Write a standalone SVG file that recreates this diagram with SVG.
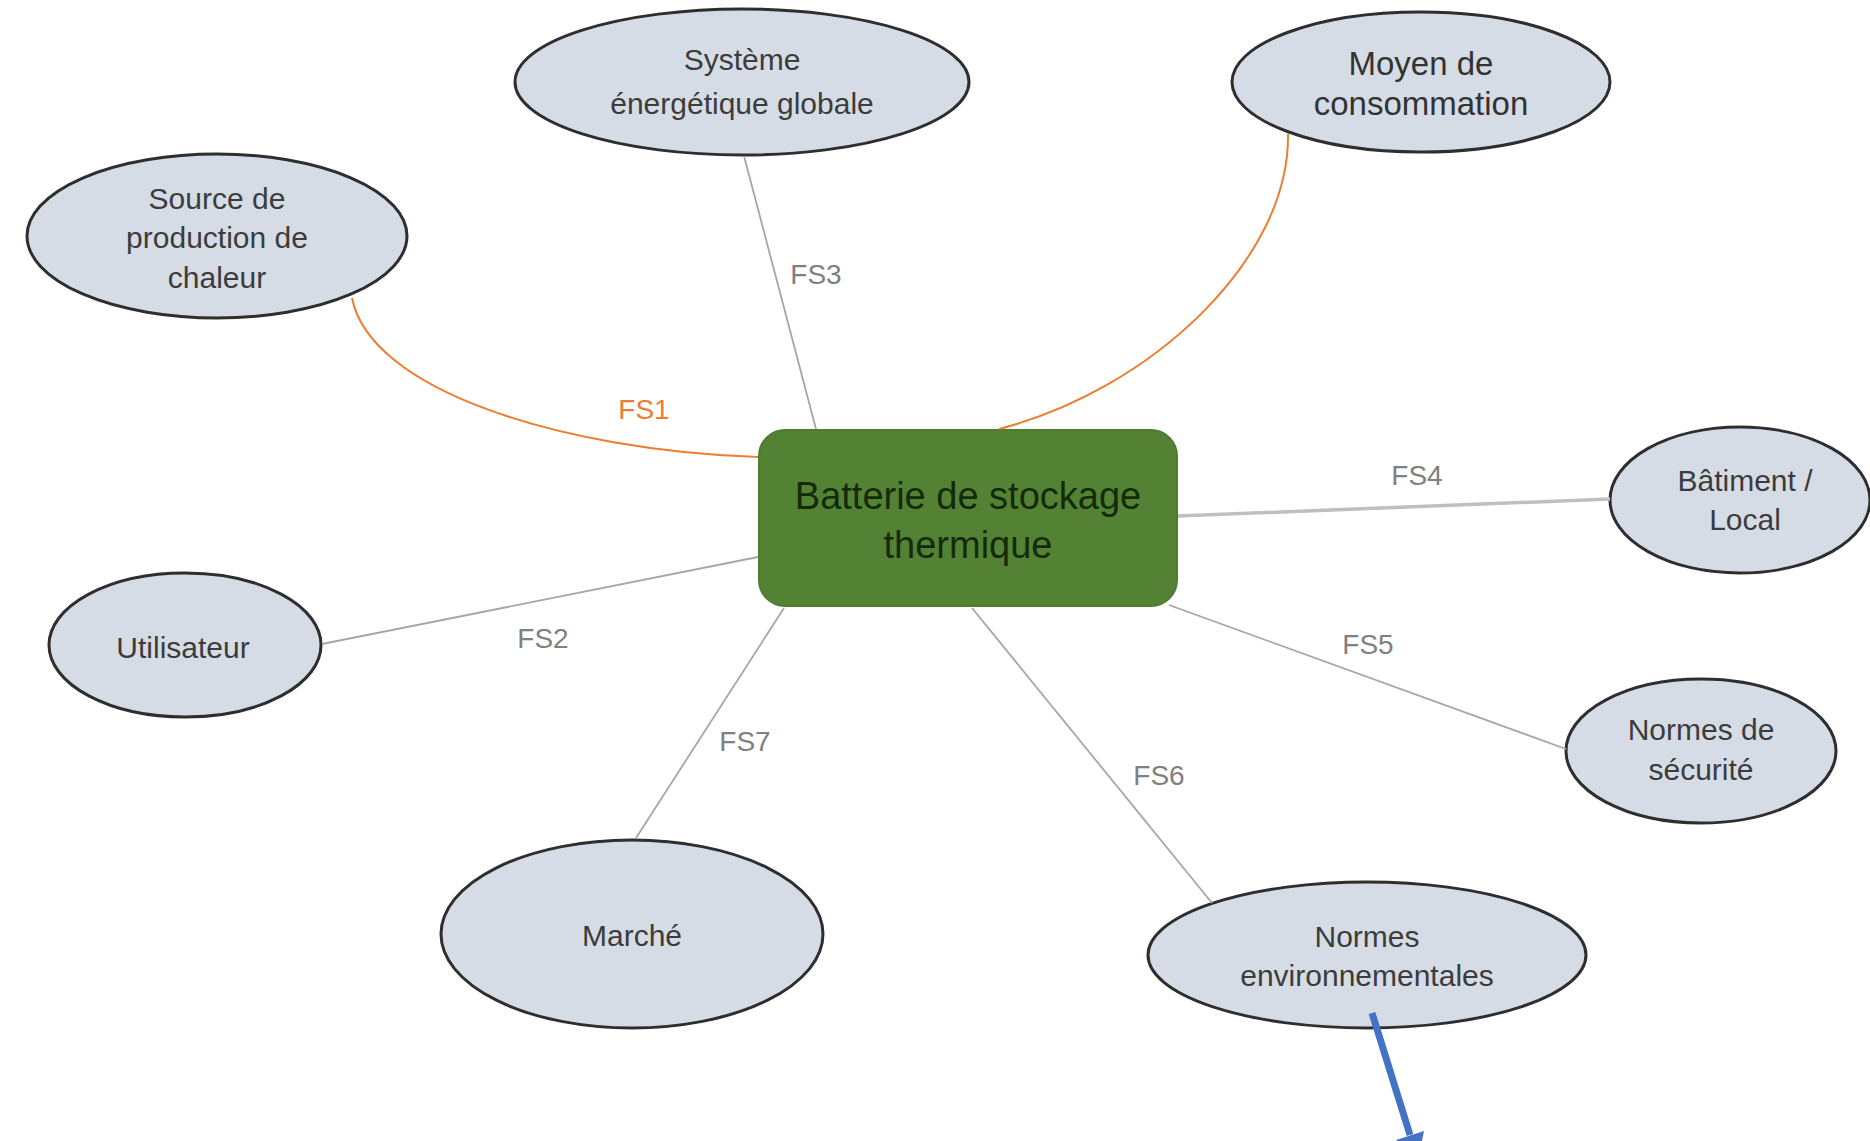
<svg xmlns="http://www.w3.org/2000/svg" width="1870" height="1141" viewBox="0 0 1870 1141">
<style>
.node ellipse{fill:#d6dce5;stroke:#2e2e2e;stroke-width:3}
.lbl{font-family:"Liberation Sans",Arial,sans-serif;font-size:30px;fill:#3c3c3c;text-anchor:middle}
.lbl2{font-family:"Liberation Sans",Arial,sans-serif;font-size:33px;fill:#333333;text-anchor:middle}
.main{font-family:"Liberation Sans",Arial,sans-serif;font-size:38px;fill:#142b0a;text-anchor:middle}
.fs{font-family:"Liberation Sans",Arial,sans-serif;font-size:28px;fill:#808080;text-anchor:middle}
.gl{stroke:#a6a6a6;stroke-width:1.8;fill:none}
.gl2{stroke:#bfbfbf;stroke-width:3.5;fill:none}
.ol{stroke:#ed7d31;stroke-width:2;fill:none}
</style>
<rect width="1870" height="1141" fill="#ffffff"/>
<g id="n-batterie">
  <rect x="759" y="430" width="418" height="176" rx="26" ry="26" fill="#548235" stroke="#4f7c30" stroke-width="2"/>
  <text class="main" x="968" y="509">Batterie de stockage</text>
  <text class="main" x="968" y="558">thermique</text>
</g>
<g id="n-systeme" class="node">
  <ellipse cx="742" cy="82" rx="227" ry="73"/>
  <text class="lbl" x="742" y="70">Système</text>
  <text class="lbl" x="742" y="114">énergétique globale</text>
</g>
<g id="n-moyen" class="node">
  <ellipse cx="1421" cy="82" rx="189" ry="70"/>
  <text class="lbl2" x="1421" y="75">Moyen de</text>
  <text class="lbl2" x="1421" y="115">consommation</text>
</g>
<g id="n-source" class="node">
  <ellipse cx="217" cy="236" rx="190" ry="82"/>
  <text class="lbl" x="217" y="209">Source de</text>
  <text class="lbl" x="217" y="248">production de</text>
  <text class="lbl" x="217" y="288">chaleur</text>
</g>
<g id="n-utilisateur" class="node">
  <ellipse cx="185" cy="645" rx="136" ry="72"/>
  <text class="lbl" x="183" y="658">Utilisateur</text>
</g>
<g id="n-batiment" class="node">
  <ellipse cx="1740" cy="500" rx="130" ry="73"/>
  <text class="lbl" x="1745" y="491">Bâtiment /</text>
  <text class="lbl" x="1745" y="530">Local</text>
</g>
<g id="n-securite" class="node">
  <ellipse cx="1701" cy="751" rx="135" ry="72"/>
  <text class="lbl" x="1701" y="740">Normes de</text>
  <text class="lbl" x="1701" y="780">sécurité</text>
</g>
<g id="n-marche" class="node">
  <ellipse cx="632" cy="934" rx="191" ry="94"/>
  <text class="lbl" x="632" y="946">Marché</text>
</g>
<g id="n-environnement" class="node">
  <ellipse cx="1367" cy="955" rx="219" ry="73"/>
  <text class="lbl" x="1367" y="947">Normes</text>
  <text class="lbl" x="1367" y="986">environnementales</text>
</g>
<g id="connectors">
  <path class="ol" d="M352,298 C370,390 560,450 758,457"/>
  <path class="ol" d="M1288,134 C1290,260 1150,390 999,429"/>
  <line class="gl" x1="744" y1="156" x2="816" y2="429"/>
  <line class="gl2" x1="1178" y1="516" x2="1610" y2="499"/>
  <line class="gl" x1="758" y1="557" x2="322" y2="644"/>
  <line class="gl" x1="784" y1="608" x2="636" y2="838"/>
  <line class="gl" x1="972" y1="608" x2="1212" y2="903"/>
  <line class="gl" x1="1169" y1="605" x2="1566" y2="749"/>
  <line x1="1372" y1="1013" x2="1410" y2="1135" stroke="#4472c4" stroke-width="7"/>
  <polygon points="1424,1131 1396,1140 1418,1160" fill="#4472c4"/>
  <text class="fs" x="644" y="419" style="fill:#ed7d31">FS1</text>
  <text class="fs" x="543" y="648">FS2</text>
  <text class="fs" x="816" y="284">FS3</text>
  <text class="fs" x="1417" y="485">FS4</text>
  <text class="fs" x="1368" y="654">FS5</text>
  <text class="fs" x="1159" y="785">FS6</text>
  <text class="fs" x="745" y="751">FS7</text>
</g>
</svg>
